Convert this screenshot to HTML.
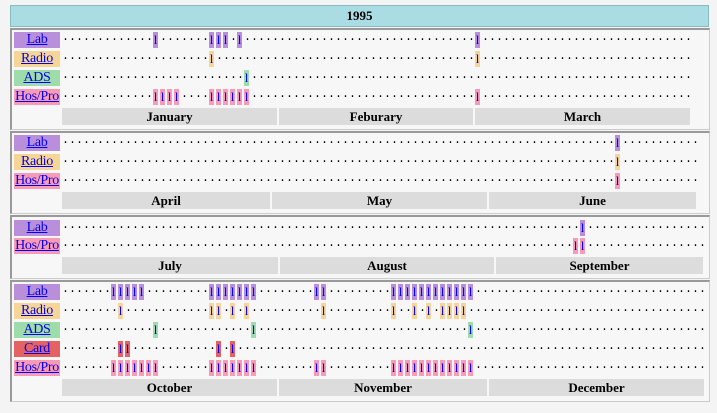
<!DOCTYPE html>
<html><head><meta charset="utf-8"><style>
body{margin:0;width:717px;height:413px;background:#f4f4f4;position:relative;overflow:hidden;font-family:"Liberation Serif",serif}
.title{position:absolute;left:10px;top:5px;width:697px;height:20px;background:#aadde3;border:1px solid #8bb;text-align:center;font-weight:bold;font-size:13px;line-height:20px}
.panel{position:absolute;left:10px;width:697px;border-top:2px solid #999;border-left:2px solid #999;border-bottom:1px solid #ccc;border-right:1px solid #ccc;background:#f7f7f7}
.lab{position:absolute;left:14px;width:46px;height:16px;text-align:center;font-size:14px;line-height:16px;color:#00e;text-decoration:underline;letter-spacing:-0.3px}
.row{position:absolute;left:62px;height:16px;font-family:"Liberation Mono",monospace;font-size:11.667px;line-height:16px;white-space:pre;letter-spacing:0}
.row b{display:inline-block;width:7px;height:16px;font-weight:normal;color:#000;position:relative;vertical-align:top}
.row b span{position:absolute;left:0;top:-3px;width:5px;text-align:left;line-height:16px}
.row b i{position:absolute;left:0;top:0;width:5px;height:16px;font-style:normal;text-align:center;line-height:16px;font-size:13px;font-family:"Liberation Serif",serif;color:#00e}
.L{background:#b98fdc}.R{background:#f6d596}.A{background:#9fdcab}.C{background:#e46262}.H{background:#f99bb6}
.m{position:absolute;height:17px;background:#dcdcdc;font-weight:bold;font-size:13px;line-height:17px;text-align:center}
</style></head><body>
<div class="title">1995</div>
<div class="panel" style="top:28px;height:99px"></div>
<div class="panel" style="top:131px;height:80px"></div>
<div class="panel" style="top:215px;height:61px"></div>
<div class="panel" style="top:280px;height:119px"></div>

<div class="lab L" style="top:32px">Lab</div>
<div class="lab R" style="top:51px">Radio</div>
<div class="lab A" style="top:70px">ADS</div>
<div class="lab H" style="top:89px">Hos/Pro</div>
<div class="row" data-c="L" style="top:32px">.............l.......lll.l.................................l..............................</div>
<div class="row" data-c="R" style="top:51px">.....................l.....................................l..............................</div>
<div class="row" data-c="A" style="top:70px">..........................l...............................................................</div>
<div class="row" data-c="H" style="top:89px">.............llll....llllll................................l..............................</div>
<div class="m" style="left:62px;top:108px;width:215px">January</div>
<div class="m" style="left:279px;top:108px;width:194px">Feburary</div>
<div class="m" style="left:475px;top:108px;width:215px">March</div>

<div class="lab L" style="top:135px">Lab</div>
<div class="lab R" style="top:154px">Radio</div>
<div class="lab H" style="top:173px">Hos/Pro</div>
<div class="row" data-c="L" style="top:135px">...............................................................................l...........</div>
<div class="row" data-c="R" style="top:154px">...............................................................................l...........</div>
<div class="row" data-c="H" style="top:173px">...............................................................................l...........</div>
<div class="m" style="left:62px;top:192px;width:208px">April</div>
<div class="m" style="left:272px;top:192px;width:215px">May</div>
<div class="m" style="left:489px;top:192px;width:207px">June</div>

<div class="lab L" style="top:220px">Lab</div>
<div class="lab H" style="top:238px">Hos/Pro</div>
<div class="row" data-c="L" style="top:220px">..........................................................................l.................</div>
<div class="row" data-c="H" style="top:238px">.........................................................................ll.................</div>
<div class="m" style="left:62px;top:257px;width:216px">July</div>
<div class="m" style="left:280px;top:257px;width:214px">August</div>
<div class="m" style="left:496px;top:257px;width:207px">September</div>

<div class="lab L" style="top:284px">Lab</div>
<div class="lab R" style="top:303px">Radio</div>
<div class="lab A" style="top:322px">ADS</div>
<div class="lab C" style="top:341px">Card</div>
<div class="lab H" style="top:360px">Hos/Pro</div>
<div class="row" data-c="L" style="top:284px">.......lllll.........lllllll........ll.........llllllllllll.................................</div>
<div class="row" data-c="R" style="top:303px">........l............ll.l.l..........l.........l..l.l.llll..................................</div>
<div class="row" data-c="A" style="top:322px">.............l.............l..............................l.................................</div>
<div class="row" data-c="C" style="top:341px">........ll............l.l...................................................................</div>
<div class="row" data-c="H" style="top:360px">.......lllllll.......lllllll........ll.........llllllllllll.................................</div>
<div class="m" style="left:62px;top:379px;width:215px">October</div>
<div class="m" style="left:279px;top:379px;width:208px">November</div>
<div class="m" style="left:489px;top:379px;width:215px">December</div>

<script>
document.querySelectorAll('.row').forEach(function(r){
  var c=r.getAttribute('data-c'),s=r.textContent,h='';
  for(var i=0;i<s.length;i++){h+=s[i]=='l'?'<b><i class="'+c+'">l</i></b>':'<b><span>.</span></b>';}
  r.removeAttribute('data-c');r.innerHTML=h;
});
</script>
</body></html>
